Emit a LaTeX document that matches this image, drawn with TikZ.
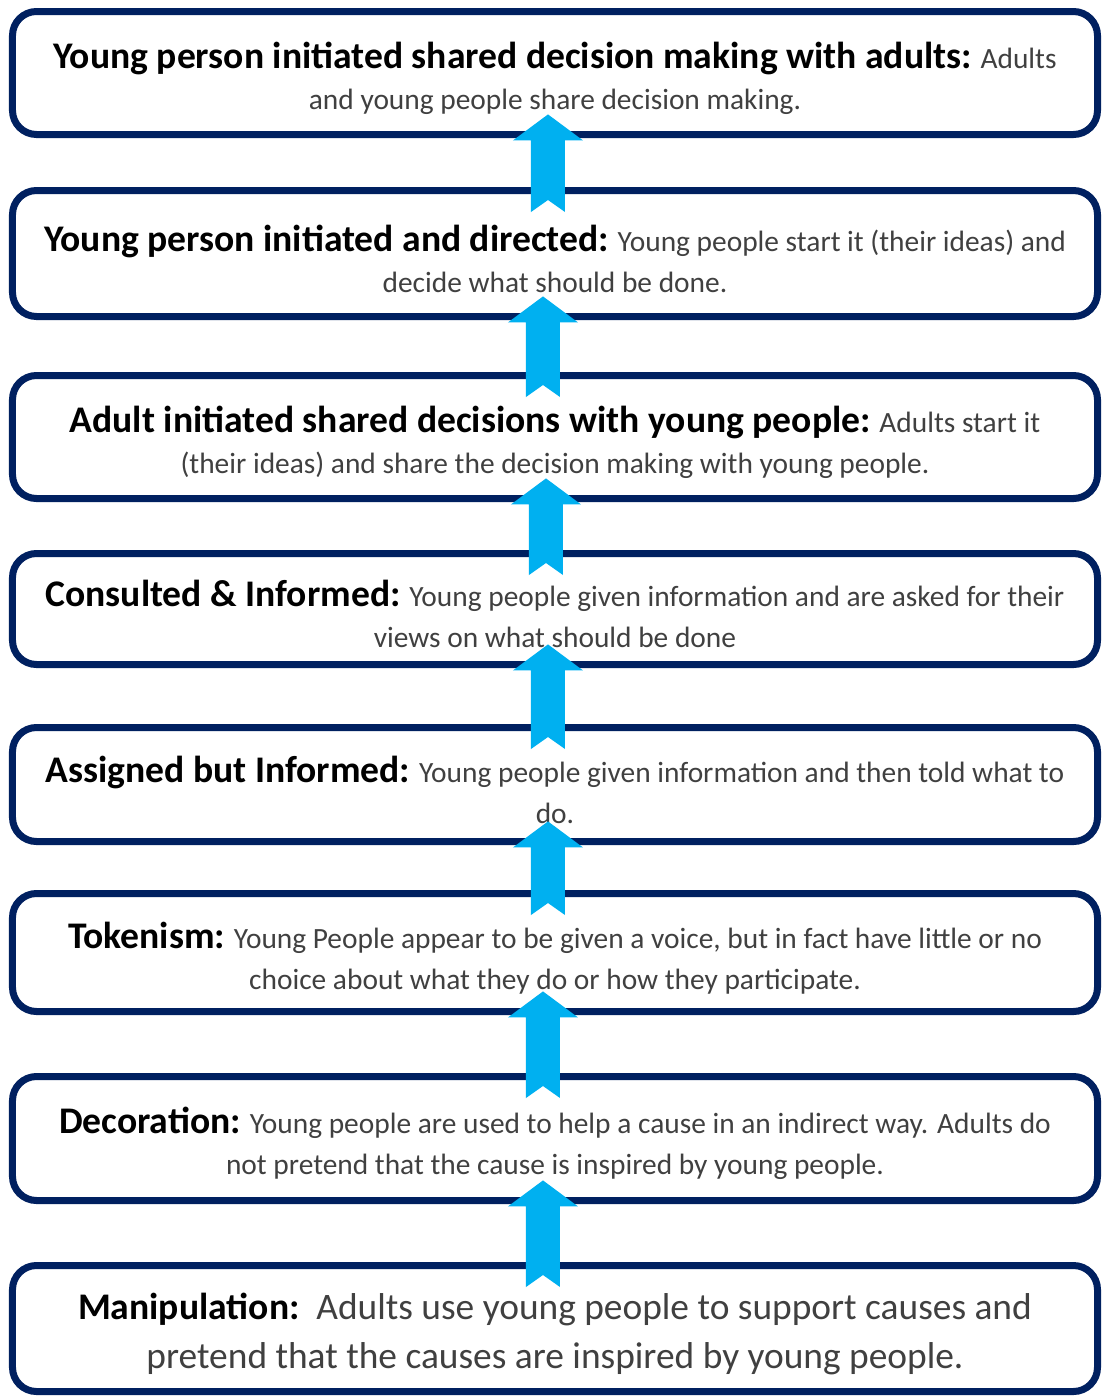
\documentclass[tikz,border=0pt]{standalone}
\usepackage{fontspec}
\setmainfont{Carlito}
\usepackage{xcolor}
\usepackage{tikz}
\usetikzlibrary{calc,positioning}
\definecolor{navy}{HTML}{002060}
\definecolor{skyblue}{HTML}{00B0F0}
\definecolor{bodygrey}{HTML}{404040}
\newcommand{\ttl}[1]{\rule{0pt}{18.5pt}{\fontsize{18.8}{20.5}\selectfont\bfseries\color{black}#1}}
% block arrow from lower box (#1) up to upper box (#2), shifted by #3
\newcommand{\blockup}[3]{%
    \fill[arrowfill] let \p1=($(#1.north)+(#3,-12.5pt)$), \p2=($(#2.south)+(#3,11.8pt)$) in
        (\x1-8.5pt,\y1) -- (\x1-8.5pt,\y2-13pt) -- (\x1-17.5pt,\y2-13pt) -- (\x1,\y2)
        -- (\x1+17.5pt,\y2-13pt) -- (\x1+8.5pt,\y2-13pt) -- (\x1+8.5pt,\y1)
        -- (\x1,\y1+6pt) -- cycle;
}
\tikzset{
    rung/.style={
        rectangle,
        rounded corners=12pt,
        draw=navy, line width=3.5pt,
        fill=white,
        minimum width=542.5pt,
        align=center,
        text=bodygrey,
        font={\fontsize{14.7}{20.5}\selectfont}
    },
    arrowfill/.style={fill=skyblue},
}
\begin{document}
\begin{tikzpicture}
    \path[use as bounding box] (-277.5pt,36.5pt) rectangle (273.5pt,-663pt);

    \node(share)[rung, minimum height=61.5pt] at (0,0)
        {\ttl{Young person initiated shared decision making with adults:} Adults\\
         and young people share decision making.};
    \node(direct)[rung, minimum height=63pt, below=24.5pt of share]
        {\ttl{Young person initiated and directed:} Young people start it (their ideas) and\\
         decide what should be done.};
    \node(adult)[rung, minimum height=61.5pt, below=26pt of direct]
        {\ttl{Adult initiated shared decisions with young people:} Adults start it\\
         (their ideas) and share the decision making with young people.};
    \node(consult)[rung, minimum height=55.5pt, below=24pt of adult]
        {\ttl{Consulted \& Informed:} Young people given information and are asked for their\\
         views on what should be done};
    \node(assign)[rung, minimum height=57pt, below=28pt of consult]
        {\ttl{Assigned but Informed:} Young people given information and then told what to\\
         do.};
    \node(token)[rung, minimum height=59pt, below=22.5pt of assign]
        {\ttl{Tokenism:} Young People appear to be given a voice, but in fact have little or no\\
         choice about what they do or how they participate.};
    \node(decor)[rung, minimum height=62pt, below=29pt of token]
        {\ttl{Decoration:} Young people are used to help a cause in an indirect way. Adults do\\
         not pretend that the cause is inspired by young people.};
    \node(manip)[rung, minimum height=63pt, below=29pt of decor, font={\fontsize{18.7}{24.5}\selectfont}]
        {\ttl{Manipulation:}\ \ Adults use young people to support causes and\\
         pretend that the causes are inspired by young people.};

    \blockup{direct}{share}{-3.5pt}
    \blockup{adult}{direct}{-6pt}
    \blockup{consult}{adult}{-4.5pt}
    \blockup{assign}{consult}{-3.5pt}
    \blockup{token}{assign}{-3.5pt}
    \blockup{decor}{token}{-6pt}
    \blockup{manip}{decor}{-6pt}
\end{tikzpicture}
\end{document}
